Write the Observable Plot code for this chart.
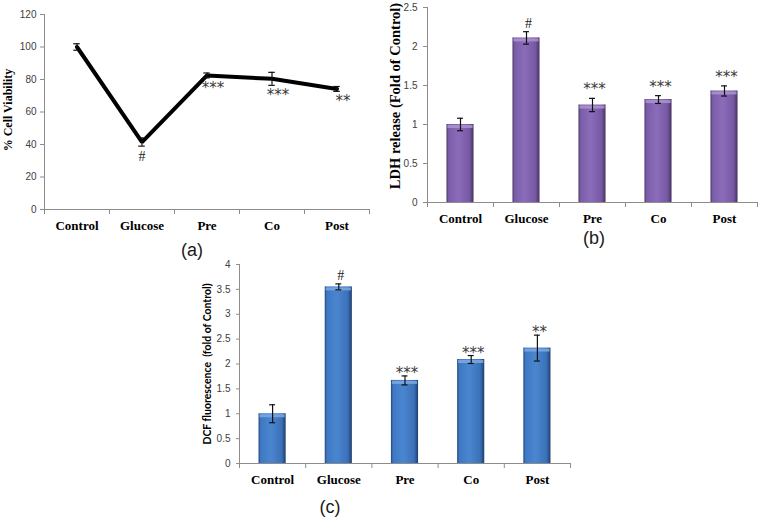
<!DOCTYPE html>
<html><head><meta charset="utf-8">
<script src="https://cdn.jsdelivr.net/npm/d3@7"></script>
<script src="https://cdn.jsdelivr.net/npm/@observablehq/plot@0.6"></script>
<style>
body{margin:0;background:#fff;}
#wrap{position:relative;width:759px;height:521px;overflow:hidden;font-family:"Liberation Sans",Arial,sans-serif;}
.panel{position:absolute;}
.tag{position:absolute;font-size:18px;color:#1a1a1a;transform:translate(-50%,-50%);font-family:"Liberation Sans",Arial,sans-serif;}
</style></head><body>
<div id="wrap"></div>
<script>
// ---------- data ----------
const categories = ["Control", "Glucose", "Pre", "Co", "Post"];

const viability = [100, 41.5, 82.5, 80.4, 74.2];
const viabilityErr = [2, 2.5, 1.5, 4, 1.5];
const viabilityMarks = ["", "#", "***", "***", "**"];
const viabilityTicks = [0, 20, 40, 60, 80, 100, 120];
const viabilityLabel = "% Cell Viability";

const ldh = [1.0, 2.11, 1.25, 1.32, 1.43];
const ldhErr = [0.08, 0.08, 0.085, 0.05, 0.065];
const ldhMarks = ["", "#", "***", "***", "***"];
const ldhTicks = [0, 0.5, 1, 1.5, 2, 2.5];
const ldhLabel = "LDH release (Fold of Control)";

const dcf = [1.0, 3.55, 1.67, 2.09, 2.32];
const dcfErr = [0.18, 0.06, 0.09, 0.08, 0.26];
const dcfMarks = ["", "#", "***", "***", "**"];
const dcfTicks = [0, 0.5, 1, 1.5, 2, 2.5, 3, 3.5, 4];
const dcfLabel = "DCF fluorescence  (fold of Control)";

const panelTags = ["(a)", "(b)", "(c)"];

// ---------- helpers ----------
const rowsOf = (vals, errs, marks) => categories.map((c, i) => ({cat: c, i, v: vals[i], e: errs[i], m: marks[i]}));
const axisGray = "#8c8c8c";
const tickText = "#404040";

function gradientMark(id, stops) {
  return () => {
    const defs = d3.create("svg:defs");
    const g = defs.append("linearGradient").attr("id", id)
      .attr("x1", "0").attr("x2", "1").attr("y1", "0").attr("y2", "0");
    stops.forEach(([o, c]) => g.append("stop").attr("offset", o).attr("stop-color", c));
    return defs.node();
  };
}

function categoryAxes() {
  return [
    Plot.axisX({ticks: d3.range(categories.length + 1), tickSize: 5, tickFormat: () => "", stroke: axisGray, label: null}),
    Plot.axisX({ticks: categories.map((_, i) => i + 0.5), tickSize: 0, tickPadding: 11,
      tickFormat: v => categories[Math.floor(v)], fontFamily: "Liberation Serif", fontWeight: "bold",
      fontSize: 13, fill: "#000", label: null}),
    Plot.ruleY([0], {stroke: axisGray}),
    Plot.ruleX([0], {stroke: axisGray})
  ];
}

function valueAxis(ticks, tickSize, tickPadding, fmt) {
  return Plot.axisY({ticks, tickSize, tickPadding, tickFormat: fmt, fontSize: 10,
    fontFamily: "Liberation Sans", stroke: axisGray, fill: tickText, label: null});
}

function place(node, left, top) {
  const d = document.createElement("div");
  d.className = "panel";
  d.style.left = left + "px";
  d.style.top = top + "px";
  d.appendChild(node);
  document.getElementById("wrap").appendChild(d);
}

// ---------- (a) line chart ----------
const rowsA = rowsOf(viability, viabilityErr, viabilityMarks);
const plotA = Plot.plot({
  width: 380, height: 240,
  marginLeft: 44, marginRight: 11, marginTop: 14, marginBottom: 31,
  style: {background: "transparent", overflow: "visible"},
  x: {type: "linear", domain: [0, categories.length]},
  y: {domain: [0, 120]},
  marks: [
    valueAxis(viabilityTicks, 4, 4, d3.format("d")),
    ...categoryAxes(),
    Plot.line(rowsA, {x: d => d.i + 0.5, y: "v", stroke: "#000", strokeWidth: 4, strokeLinejoin: "miter"}),
    Plot.ruleX(rowsA, {x: d => d.i + 0.5, y1: d => d.v - d.e, y2: d => d.v + d.e, stroke: "#111", strokeWidth: 1.2}),
    Plot.ruleY(rowsA, {y: d => d.v + d.e, x1: d => d.i + 0.45, x2: d => d.i + 0.55, stroke: "#111", strokeWidth: 1.2}),
    Plot.ruleY(rowsA, {y: d => d.v - d.e, x1: d => d.i + 0.45, x2: d => d.i + 0.55, stroke: "#111", strokeWidth: 1.2}),
    Plot.text(rowsA.filter(d => d.m === "#"), {x: d => d.i + 0.5, y: d => d.v - d.e, text: "m", lineAnchor: "top", dy: 5,
      fontSize: 14, fontFamily: "Liberation Serif", fill: "#222"}),
    Plot.text(rowsA.filter(d => d.m.startsWith("*")), {x: d => d.i + 0.5, y: d => d.v - d.e, text: "m", lineAnchor: "top", dy: 4, dx: 6,
      fontSize: 15, fontFamily: "DejaVu Sans", fill: "#3a3a3a"}),
    Plot.text([viabilityLabel], {frameAnchor: "left", textAnchor: "middle", rotate: -90, dx: -36, dy: -2, fontSize: 12,
      fontFamily: "Liberation Serif", fontWeight: "bold", fill: "#000"})
  ]
});
place(plotA, 0, 0);

// ---------- bar chart builder ----------
function barChart({vals, errs, marks, ticks, fmt, label, labelFont, labelSize, labelDx, labelDy, yMax, gradId, stops, highlight,
                   width, height, margins, tickSize, tickPadding, starDy}) {
  const rows = rowsOf(vals, errs, marks);
  return Plot.plot({
    width, height, ...margins,
    style: {background: "transparent", overflow: "visible"},
    x: {type: "linear", domain: [0, categories.length]},
    y: {domain: [0, yMax]},
    marks: [
      gradientMark(gradId, stops),
      valueAxis(ticks, tickSize, tickPadding, fmt),
      Plot.rectY(rows, {x1: d => d.i + 0.295, x2: d => d.i + 0.705, y1: 0, y2: "v", fill: `url(#${gradId})`}),
      Plot.ruleY(rows, {y: "v", x1: d => d.i + 0.31, x2: d => d.i + 0.69, dy: 2, stroke: highlight, strokeWidth: 3, strokeOpacity: 0.85}),
      ...categoryAxes(),
      Plot.ruleX(rows, {x: d => d.i + 0.5, y1: d => d.v - d.e, y2: d => d.v + d.e, stroke: "#111", strokeWidth: 1.2}),
      Plot.ruleY(rows, {y: d => d.v + d.e, x1: d => d.i + 0.455, x2: d => d.i + 0.545, stroke: "#111", strokeWidth: 1.2}),
      Plot.ruleY(rows, {y: d => d.v - d.e, x1: d => d.i + 0.455, x2: d => d.i + 0.545, stroke: "#111", strokeWidth: 1.2}),
      Plot.text(rows.filter(d => d.m === "#"), {x: d => d.i + 0.5, y: d => d.v + d.e, text: "m", lineAnchor: "bottom", dy: -4, dx: 2,
        fontSize: 14, fontFamily: "Liberation Serif", fill: "#222"}),
      Plot.text(rows.filter(d => d.m.startsWith("*")), {x: d => d.i + 0.5, y: d => d.v + d.e, text: "m", lineAnchor: "bottom", dy: starDy, dx: 2,
        fontSize: 15, fontFamily: "DejaVu Sans", fill: "#3a3a3a"}),
      Plot.text([label], {frameAnchor: "left", textAnchor: "middle", rotate: -90, dx: labelDx, dy: labelDy, fontSize: labelSize,
        fontFamily: labelFont, fontWeight: "bold", fill: "#000"})
    ]
  });
}

// ---------- (b) ----------
place(barChart({
  vals: ldh, errs: ldhErr, marks: ldhMarks, ticks: ldhTicks, fmt: d3.format("~g"), label: ldhLabel,
  labelFont: "Liberation Serif", labelSize: 14.5, labelDx: -32, labelDy: -9, yMax: 2.5,
  gradId: "gradPurple",
  stops: [[0, "#4b3869"], [0.08, "#7a5da8"], [0.45, "#8b6cba"], [0.85, "#7658a3"], [1, "#46335f"]],
  highlight: "#a995cf",
  width: 389, height: 230, margins: {marginLeft: 57, marginRight: 2, marginTop: 7, marginBottom: 28},
  tickSize: 4, tickPadding: 6, starDy: -4
}), 370, 0);

// ---------- (c) ----------
place(barChart({
  vals: dcf, errs: dcfErr, marks: dcfMarks, ticks: dcfTicks, fmt: d3.format("~g"), label: dcfLabel,
  labelFont: "Lato", labelSize: 10.5, labelDx: -32, labelDy: 0, yMax: 4,
  gradId: "gradBlue",
  stops: [[0, "#23477a"], [0.08, "#3f78c2"], [0.45, "#4a86d0"], [0.85, "#3b71b8"], [1, "#1f3f6e"]],
  highlight: "#7ea9e0",
  width: 400, height: 240, margins: {marginLeft: 49, marginRight: 20, marginTop: 14, marginBottom: 27},
  tickSize: 3, tickPadding: 6, starDy: 2
}), 190, 250);

// ---------- panel tags ----------
const tagPos = [[192, 250], [594, 238], [330, 507]];
panelTags.forEach((t, k) => {
  const d = document.createElement("div");
  d.className = "tag";
  d.textContent = t;
  d.style.left = tagPos[k][0] + "px";
  d.style.top = tagPos[k][1] + "px";
  document.getElementById("wrap").appendChild(d);
});
</script>
</body></html>
